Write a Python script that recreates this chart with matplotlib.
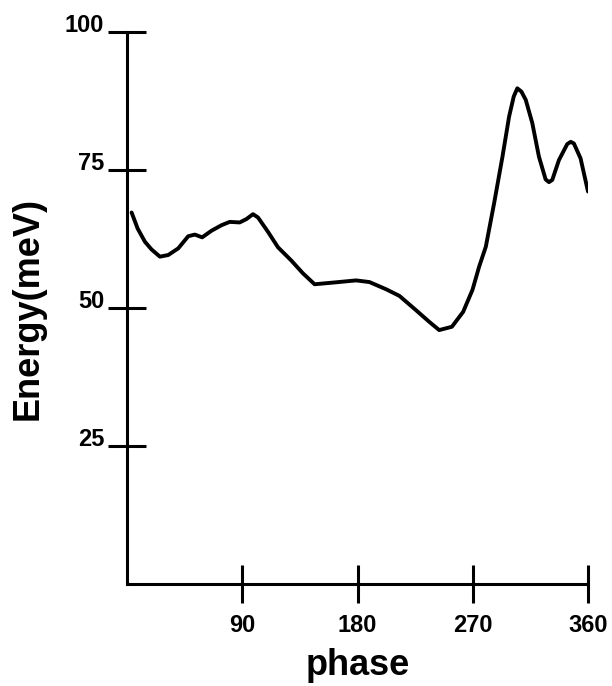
import matplotlib
matplotlib.use("Agg")
import matplotlib.pyplot as plt

phase = [3.6, 8.3, 14.0, 19.2, 25.7, 32.2, 40.0, 47.8, 53.0, 58.7, 66.0, 73.8,
         80.2, 88.0, 93.2, 98.4, 102.3, 110.1, 117.9, 128.3, 137.3, 146.5,
         160.7, 178.9, 189.3, 202.3, 212.7, 225.7, 236.0, 243.8, 253.7, 262.5,
         269.8, 275.0, 280.2, 286.7, 293.2, 298.4, 302.0, 304.8, 308.0, 311.4,
         316.5, 321.7, 326.9, 329.5, 332.1, 337.3, 343.8, 346.5, 349.0, 354.2, 360.0]
energy = [67.3, 64.4, 62.0, 60.6, 59.3, 59.6, 60.8, 63.0, 63.3, 62.8, 64.0, 65.0,
          65.6, 65.5, 66.1, 67.0, 66.4, 63.8, 61.0, 58.6, 56.3, 54.3,
          54.6, 55.0, 54.7, 53.4, 52.2, 49.6, 47.5, 46.0, 46.6, 49.3,
          53.3, 57.5, 61.1, 69.0, 77.4, 84.7, 88.3, 89.8, 89.2, 87.7,
          83.5, 77.4, 73.3, 72.8, 73.2, 76.8, 79.7, 80.1, 79.8, 77.1, 71.1]
xticks = [90, 180, 270, 360]
yticks = [25, 50, 75, 100]

plt.rcParams['font.family'] = ['Liberation Sans', 'DejaVu Sans']
fig = plt.figure(figsize=(6.12, 6.86), dpi=100)
ax = fig.add_axes([127/612, 1-584/686, (588-127)/612, (584-32)/686])
ax.plot(phase, energy, color='black', lw=2.8, solid_joinstyle='round', solid_capstyle='round')
ax.set_xlim(0, 360)
ax.set_ylim(0, 100)
for s in ['top', 'right']:
    ax.spines[s].set_visible(False)
for s in ['left', 'bottom']:
    ax.spines[s].set_linewidth(2.2)
ax.set_xticks(xticks)
ax.set_yticks(yticks)
ax.set_xticklabels([str(v) for v in xticks], fontsize=17, fontweight='bold')
ax.set_yticklabels([str(v) for v in yticks], fontsize=17, fontweight='bold')
ax.tick_params(axis='both', direction='inout', length=27, width=2.2)
ax.tick_params(axis='x', pad=8)
ax.tick_params(axis='y', pad=3)
for lab in ax.get_yticklabels():
    lab.set_va('baseline')
ax.set_xlabel('phase', fontsize=26, fontweight='bold', labelpad=8)
ax.set_ylabel('Energy(meV)', fontsize=26, fontweight='bold', labelpad=14)
fig.savefig('out.png', dpi=100)
